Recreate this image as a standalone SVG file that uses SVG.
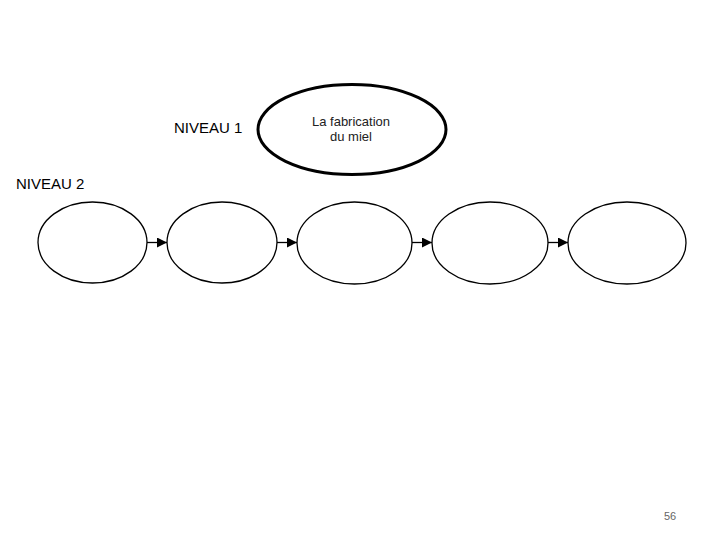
<svg xmlns="http://www.w3.org/2000/svg" width="720" height="540" viewBox="0 0 720 540">
<defs>
<style>
.lbl{font-family:"Liberation Sans",Arial,sans-serif;font-size:15px;fill:#000}
.t{font-family:"Liberation Sans",Arial,sans-serif;font-size:13px;fill:#222;text-anchor:middle}
.e{fill:#fff;stroke:#000;stroke-width:1.3}
.c{stroke:#000;stroke-width:1.3;fill:none}
</style>
<marker id="ah" viewBox="0 0 10 10" refX="10" refY="5" markerWidth="12" markerHeight="10" markerUnits="userSpaceOnUse" orient="auto">
<path d="M0,0 L10,5 L0,10 Z" fill="#000"/>
</marker>
</defs>
<rect width="720" height="540" fill="#fff"/>
<text class="lbl" x="174" y="133">NIVEAU 1</text>
<text class="lbl" x="16" y="189">NIVEAU 2</text>
<g id="n0">
<ellipse cx="352" cy="129.5" rx="94" ry="45" fill="#fff" stroke="#000" stroke-width="3"/>
<text class="t" x="351" y="126">La fabrication</text>
<text class="t" x="351" y="141">du miel</text>
</g>
<g id="n1"><ellipse class="e" cx="92.5" cy="242.5" rx="54.5" ry="40.5"/></g>
<g id="n2"><ellipse class="e" cx="222" cy="242.5" rx="55" ry="40.5"/></g>
<g id="n3"><ellipse class="e" cx="354.5" cy="243" rx="57.5" ry="41"/></g>
<g id="n4"><ellipse class="e" cx="490" cy="243" rx="58" ry="41"/></g>
<g id="n5"><ellipse class="e" cx="627" cy="243" rx="59" ry="41"/></g>
<g id="connectors">
<line class="c" x1="147" y1="242.5" x2="167" y2="242.5" marker-end="url(#ah)"/>
<line class="c" x1="277" y1="242.5" x2="297" y2="242.5" marker-end="url(#ah)"/>
<line class="c" x1="412" y1="242.5" x2="432" y2="242.5" marker-end="url(#ah)"/>
<line class="c" x1="548" y1="242.5" x2="568" y2="242.5" marker-end="url(#ah)"/>
</g>
<text x="664" y="520" font-family="Liberation Sans,Arial,sans-serif" font-size="11" fill="#666">56</text>
</svg>
